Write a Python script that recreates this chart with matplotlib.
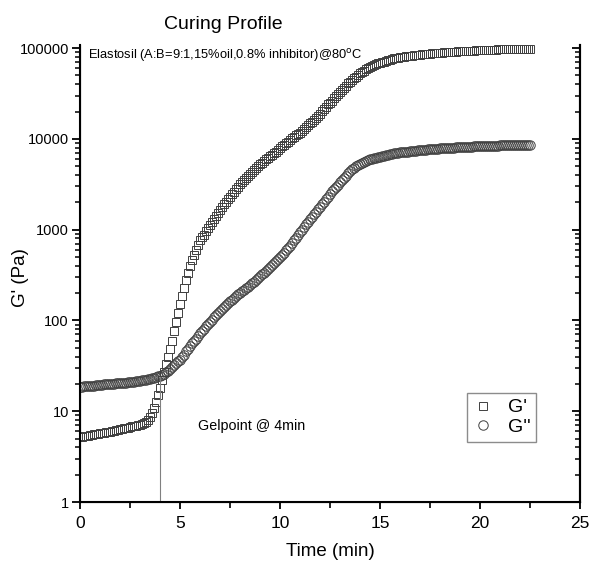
import numpy as np
import matplotlib
matplotlib.use("Agg")
import matplotlib.pyplot as plt
from matplotlib import ticker

plt.rcParams['font.family'] = ['Liberation Sans', 'DejaVu Sans']

# Time (min), sampled every 0.1 min
time_min = [
    0.0, 0.1, 0.2, 0.3, 0.4, 0.5, 0.6, 0.7, 0.8, 0.9,
    1.0, 1.1, 1.2, 1.3, 1.4, 1.5, 1.6, 1.7, 1.8, 1.9,
    2.0, 2.1, 2.2, 2.3, 2.4, 2.5, 2.6, 2.7, 2.8, 2.9,
    3.0, 3.1, 3.2, 3.3, 3.4, 3.5, 3.6, 3.7, 3.8, 3.9,
    4.0, 4.1, 4.2, 4.3, 4.4, 4.5, 4.6, 4.7, 4.8, 4.9,
    5.0, 5.1, 5.2, 5.3, 5.4, 5.5, 5.6, 5.7, 5.8, 5.9,
    6.0, 6.1, 6.2, 6.3, 6.4, 6.5, 6.6, 6.7, 6.8, 6.9,
    7.0, 7.1, 7.2, 7.3, 7.4, 7.5, 7.6, 7.7, 7.8, 7.9,
    8.0, 8.1, 8.2, 8.3, 8.4, 8.5, 8.6, 8.7, 8.8, 8.9,
    9.0, 9.1, 9.2, 9.3, 9.4, 9.5, 9.6, 9.7, 9.8, 9.9,
    10.0, 10.1, 10.2, 10.3, 10.4, 10.5, 10.6, 10.7, 10.8, 10.9,
    11.0, 11.1, 11.2, 11.3, 11.4, 11.5, 11.6, 11.7, 11.8, 11.9,
    12.0, 12.1, 12.2, 12.3, 12.4, 12.5, 12.6, 12.7, 12.8, 12.9,
    13.0, 13.1, 13.2, 13.3, 13.4, 13.5, 13.6, 13.7, 13.8, 13.9,
    14.0, 14.1, 14.2, 14.3, 14.4, 14.5, 14.6, 14.7, 14.8, 14.9,
    15.0, 15.1, 15.2, 15.3, 15.4, 15.5, 15.6, 15.7, 15.8, 15.9,
    16.0, 16.1, 16.2, 16.3, 16.4, 16.5, 16.6, 16.7, 16.8, 16.9,
    17.0, 17.1, 17.2, 17.3, 17.4, 17.5, 17.6, 17.7, 17.8, 17.9,
    18.0, 18.1, 18.2, 18.3, 18.4, 18.5, 18.6, 18.7, 18.8, 18.9,
    19.0, 19.1, 19.2, 19.3, 19.4, 19.5, 19.6, 19.7, 19.8, 19.9,
    20.0, 20.1, 20.2, 20.3, 20.4, 20.5, 20.6, 20.7, 20.8, 20.9,
    21.0, 21.1, 21.2, 21.3, 21.4, 21.5, 21.6, 21.7, 21.8, 21.9,
    22.0, 22.1, 22.2, 22.3, 22.4, 22.5,
]

# Storage modulus G' (Pa)
g_storage = [
    5.2, 5.25, 5.3, 5.35, 5.4, 5.45, 5.5, 5.55, 5.6, 5.65,
    5.7, 5.75, 5.8, 5.85, 5.9, 5.95, 6.0, 6.1, 6.2, 6.25,
    6.3, 6.4, 6.5, 6.55, 6.6, 6.7, 6.8, 6.85, 6.9, 7.0,
    7.1, 7.25, 7.4, 7.65, 8.0, 8.6, 9.5, 10.8, 12.5, 15,
    18, 22, 27, 33, 40, 49, 60, 76, 95, 120,
    150, 185, 230, 280, 330, 395, 460, 530, 600, 680,
    760, 820, 880, 960, 1040, 1120, 1200, 1300, 1400, 1530,
    1660, 1780, 1900, 2020, 2150, 2300, 2450, 2620, 2800, 2980,
    3160, 3330, 3500, 3700, 3900, 4100, 4300, 4550, 4800, 5020,
    5250, 5470, 5700, 5950, 6200, 6420, 6650, 6950, 7250, 7600,
    7950, 8270, 8600, 8950, 9300, 9700, 10100, 10500, 11000, 11300,
    11700, 12300, 12900, 13500, 14100, 14800, 15500, 16200, 17000, 18000,
    19000, 20100, 21300, 22600, 23900, 25100, 26300, 27900, 29500, 31300,
    33100, 34700, 36300, 38500, 40700, 42700, 44700, 46600, 48500, 50500,
    52500, 54300, 56200, 58200, 60300, 61600, 63000, 64500, 66000, 67600,
    69200, 70100, 71000, 72200, 73500, 74700, 76000, 77000, 78000, 78500,
    79000, 79700, 80300, 80900, 81500, 82000, 82600, 83100, 83600, 84000,
    84500, 85000, 85400, 85800, 86300, 86700, 87100, 87500, 87900, 88300,
    88700, 89000, 89400, 89800, 90100, 90400, 90800, 91100, 91400, 91700,
    92000, 92300, 92600, 92900, 93100, 93400, 93600, 93900, 94100, 94400,
    94600, 94800, 95000, 95200, 95400, 95600, 95800, 96000, 96200, 96400,
    96600, 96700, 96900, 97000, 97200, 97300, 97500, 97600, 97800, 97900,
    98100, 98200, 98400, 98500, 98700, 98800,
]

# Loss modulus G'' (Pa)
g_loss = [
    18.6, 18.7, 18.8, 18.9, 19.0, 19.05, 19.1, 19.2, 19.3, 19.4,
    19.5, 19.6, 19.7, 19.75, 19.8, 19.9, 20.0, 20.1, 20.2, 20.3,
    20.4, 20.5, 20.6, 20.7, 20.8, 20.9, 21.0, 21.15, 21.3, 21.45,
    21.6, 21.8, 22.0, 22.25, 22.5, 22.8, 23.1, 23.4, 23.8, 24.2,
    24.6, 25.3, 26, 27, 28, 29.5, 31, 32.5, 34, 35.5,
    37, 39.5, 42, 45.5, 49, 52.5, 56, 59.5, 63, 67.5,
    72, 76.5, 81, 86, 91, 96, 102, 108, 114, 120,
    126, 133, 140, 147, 155, 163, 170, 177, 185, 193,
    201, 209, 218, 227, 236, 246, 256, 268, 280, 294,
    308, 322, 337, 353, 370, 388, 407, 427, 448, 472,
    497, 525, 555, 590, 627, 668, 712, 760, 812, 870,
    935, 1000, 1070, 1140, 1220, 1300, 1390, 1480, 1580, 1680,
    1790, 1910, 2040, 2160, 2290, 2450, 2630, 2790, 2950, 3130,
    3310, 3510, 3720, 3940, 4170, 4400, 4620, 4820, 5010, 5170,
    5310, 5440, 5560, 5690, 5820, 5930, 6030, 6100, 6170, 6240,
    6310, 6400, 6490, 6580, 6670, 6750, 6820, 6900, 6970, 7030,
    7080, 7120, 7160, 7200, 7240, 7290, 7330, 7370, 7410, 7460,
    7500, 7530, 7570, 7600, 7640, 7680, 7710, 7740, 7780, 7810,
    7850, 7870, 7900, 7920, 7950, 7970, 8000, 8020, 8050, 8070,
    8100, 8120, 8150, 8170, 8190, 8210, 8230, 8250, 8270, 8290,
    8310, 8320, 8340, 8350, 8370, 8380, 8400, 8410, 8430, 8440,
    8450, 8460, 8470, 8480, 8490, 8500, 8510, 8520, 8530, 8540,
    8550, 8560, 8570, 8580, 8600, 8610,
]

# Gel point (crossover)
gel_time = 4.0
gel_modulus = 24.0

x_ticks = [0, 5, 10, 15, 20, 25]
y_ticks = [1, 10, 100, 1000, 10000, 100000]

fig = plt.figure(figsize=(5.92, 5.74), dpi=100)
ax = fig.add_axes([0.1351, 0.1254, 0.8446, 0.7962])

edge = '#404040'
ax.plot(time_min, g_storage, linestyle='none', marker='s', markersize=6.3,
        markerfacecolor='none', markeredgecolor=edge, markeredgewidth=0.7, label="G'")
ax.plot(time_min, g_loss, linestyle='none', marker='o', markersize=6.8,
        markerfacecolor='none', markeredgecolor=edge, markeredgewidth=0.7, label="G''")

# gel point marker line
ax.plot([gel_time, gel_time], [1, gel_modulus], color='#808080', linewidth=0.8)

ax.set_yscale('log')
ax.set_xlim(0, 25)
ax.set_ylim(1, 1.08e5)
ax.set_xticks(x_ticks)
ax.xaxis.set_minor_locator(ticker.MultipleLocator(2.5))
ax.set_yticks(y_ticks)
ax.yaxis.set_major_formatter(ticker.FuncFormatter(lambda v, p: f'{int(round(v))}'))
ax.yaxis.set_minor_formatter(ticker.NullFormatter())

for side in ['left', 'bottom', 'right']:
    ax.spines[side].set_linewidth(1.5)
ax.spines['top'].set_visible(False)

ax.tick_params(axis='x', which='major', direction='out', length=5, width=1.3, labelsize=12.5, pad=5)
ax.tick_params(axis='x', which='minor', direction='out', length=4, width=1.2)
ax.tick_params(axis='y', which='major', direction='out', length=6, width=1.3, labelsize=10.5, pad=2)
ax.tick_params(axis='y', which='minor', direction='out', length=3.5, width=1.1)

# right axis: inward ticks, no labels
ax2 = ax.twinx()
ax2.set_yscale('log')
ax2.set_ylim(ax.get_ylim())
ax2.set_yticks(y_ticks)
ax2.yaxis.set_major_formatter(ticker.NullFormatter())
ax2.yaxis.set_minor_formatter(ticker.NullFormatter())
ax2.spines['top'].set_visible(False)
ax2.spines['right'].set_linewidth(1.5)
ax2.tick_params(axis='y', which='major', direction='in', length=6, width=1.3)
ax2.tick_params(axis='y', which='minor', direction='in', length=3.5, width=1.1)

ax.set_xlabel('Time (min)', fontsize=13.5, labelpad=9)
fig.text(0.034, 1 - 278 / 574, "G' (Pa)", rotation=90, fontsize=13.5, ha='center', va='center')
fig.text(0.377, 0.958, 'Curing Profile', fontsize=14, ha='center', va='center')

ax.text(0.016, 0.995, 'Elastosil (A:B=9:1,15%oil,0.8% inhibitor)@80$^{\\mathrm{o}}$C',
        transform=ax.transAxes, fontsize=9.3, ha='left', va='top')
ax.text(5.9, 6.8, 'Gelpoint @ 4min', fontsize=10.3, ha='left', va='center')

leg = ax.legend(loc='upper left', bbox_to_anchor=(0.774, 0.2385), fontsize=14,
                frameon=True, fancybox=False, handlelength=1.0, handletextpad=0.8,
                borderpad=0.3, labelspacing=0.1, borderaxespad=0)
leg.get_frame().set_edgecolor('#707070')
leg.get_frame().set_linewidth(1.0)

plt.savefig('out.png', dpi=100)
